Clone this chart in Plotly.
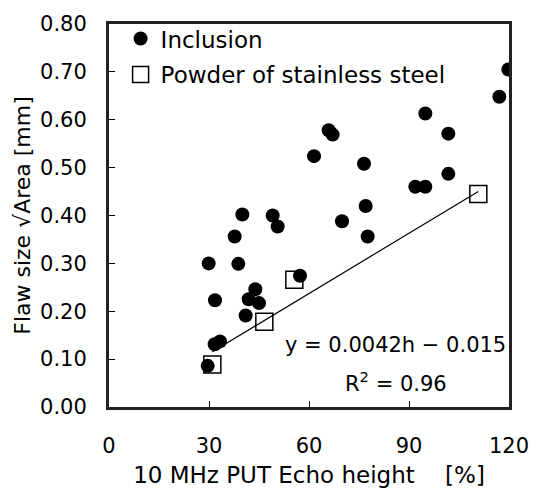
import plotly.graph_objects as go

# Inclusion data: echo height [%], flaw size sqrt(area) [mm]
incl_x = [29.6, 29.9, 31.8, 31.7, 33.3, 37.7, 38.8, 40.0, 41.0, 41.9, 43.9, 45.0,
          49.1, 50.6, 57.3, 69.9, 77.0, 77.6, 91.9, 94.9, 119.8, 117.1, 94.9,
          101.8, 65.9, 67.1, 61.5, 76.5, 101.8]
incl_y = [0.086, 0.300, 0.223, 0.131, 0.137, 0.356, 0.299, 0.402, 0.191, 0.225,
          0.246, 0.217, 0.400, 0.377, 0.274, 0.388, 0.420, 0.356, 0.460, 0.460,
          0.705, 0.648, 0.613, 0.571, 0.578, 0.569, 0.524, 0.508, 0.487]

# Powder of stainless steel
powder_x = [31.0, 46.6, 55.6, 110.8]
powder_y = [0.089, 0.178, 0.266, 0.445]

# Regression y = a*h + b
slope = 0.0042
intercept = -0.015
fit_x = [min(powder_x), max(powder_x)]
fit_y = [slope * h + intercept for h in fit_x]

x_ticks = [0, 30, 60, 90, 120]
y_ticks = [0.0, 0.1, 0.2, 0.3, 0.4, 0.5, 0.6, 0.7, 0.8]

FONT = "DejaVu Sans"

fig = go.Figure()
fig.add_trace(go.Scatter(x=fit_x, y=fit_y, mode="lines",
                         line=dict(color="black", width=1.2), showlegend=False,
                         hoverinfo="skip"))
fig.add_trace(go.Scatter(x=incl_x, y=incl_y, mode="markers", name="Inclusion",
                         legendgroup="a",
                         marker=dict(symbol="circle", size=14, color="black")))
fig.add_trace(go.Scatter(x=powder_x, y=powder_y, mode="markers",
                         name="Powder of stainless steel", legendgroup="b",
                         marker=dict(symbol="square-open", size=17, color="black",
                                     line=dict(width=1.5))))

fig.add_annotation(x=86.0, y=0.1285, xref="x", yref="y",
                   text="y = 0.0042h − 0.015", showarrow=False,
                   font=dict(size=21, color="black", family=FONT))
fig.add_annotation(x=86.0, y=0.053, xref="x", yref="y",
                   text="R<sup>2</sup> = 0.96", showarrow=False,
                   font=dict(size=21, color="black", family=FONT))

fig.update_layout(
    width=541, height=497,
    margin=dict(l=109, r=22, t=15, b=90),
    paper_bgcolor="white", plot_bgcolor="white",
    font=dict(family=FONT, size=21, color="black"),
    legend=dict(x=0.029, y=1.018, xanchor="left", yanchor="top",
                bgcolor="rgba(0,0,0,0)", font=dict(size=23, family=FONT),
                tracegroupgap=3, traceorder="grouped"),
    xaxis=dict(range=[0, 120], tickvals=x_ticks, ticktext=[str(v) for v in x_ticks],
               ticks="inside", ticklen=6, tickcolor="black", showgrid=False,
               zeroline=False, showline=True, linecolor="#222", linewidth=3,
               mirror=True, ticklabelstandoff=18,
               tickfont=dict(size=21, family=FONT),
               title=dict(text="10 MHz PUT Echo height　 [%]", standoff=10,
                          font=dict(size=23, family=FONT))),
    yaxis=dict(range=[0, 0.8], tickvals=y_ticks,
               ticktext=[f"{v:.2f}" for v in y_ticks],
               ticks="inside", ticklen=6, tickcolor="black", showgrid=False,
               zeroline=False, showline=True, linecolor="#222", linewidth=3,
               mirror=True, ticklabelstandoff=15,
               tickfont=dict(size=21, family=FONT),
               title=dict(text="Flaw size √Area [mm]", standoff=4,
                          font=dict(size=22, family=FONT))),
)

fig.write_html("out.html")
